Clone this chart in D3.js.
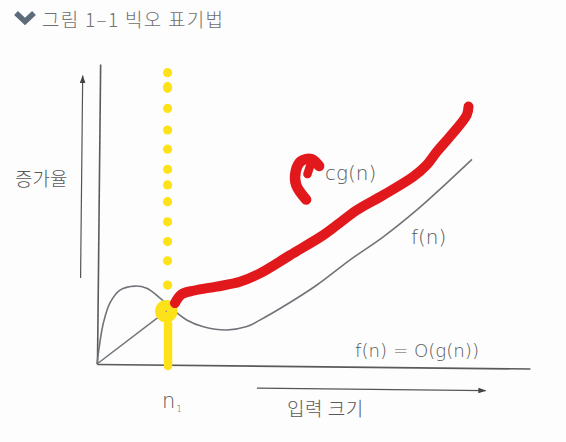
<!DOCTYPE html>
<html><head><meta charset="utf-8">
<script src="https://cdn.jsdelivr.net/npm/d3@7/dist/d3.min.js"></script>
<style>
html,body{margin:0;padding:0;background:#fff;}
svg{display:block;}
text{font-family:"Noto Sans CJK KR","Noto Sans",sans-serif;font-weight:300;}
text.lat{font-family:"DejaVu Sans","Noto Sans",sans-serif;font-weight:200;}
</style></head>
<body>
<script>
// ---- data (chart units: input size 0-100, growth 0-100) ----
const fnX = [0, 0.5, 1.36, 2.85, 5.13, 8.59, 11.3, 14.4, 17.5, 20.6, 24.5, 29.9, 34.5, 37.5, 42.9, 50.6, 58.2, 65.8, 73.5, 81.1, 86.1];
const fnY = [0, 6.0, 13.6, 20.4, 24.7, 26.1, 25.4, 22.2, 18.3, 15.0, 12.8, 11.8, 13.0, 15.2, 19.8, 27.1, 35.6, 43.4, 52.5, 62.6, 69.5];
const lineX = [0, 16.7];
const lineY = [0, 18.8];
const cgX = [18.0, 19.5, 22.5, 27.6, 33.0, 37.6, 44.6, 52.3, 55.4, 60.0, 66.1, 73.0, 76.1, 78.5, 81.5, 85.4, 85.8];
const cgY = [20.3, 23.2, 24.5, 25.8, 27.4, 30.2, 36.3, 43.0, 46.3, 51.3, 56.3, 62.4, 66.3, 70.8, 75.8, 83.0, 85.8];
const n1 = 16.3;
const dotY = [97.1, 92.2, 85.2, 78.0, 71.6, 64.9, 59.7, 54.1, 47.4, 40.8, 34.4, 26.3];
const loopX = [16.0], loopY = [17.6];
const stemY = [13.5, -0.7];
const curlX = [48.3, 46.0, 45.9, 47.1, 49.5, 51.3];
const curlY = [54.8, 59.7, 64.3, 67.6, 68.3, 66.0];
const curlSpurX = [49.6, 48.6];
const curlSpurY = [67.6, 63.3];
const title = "그림 1–1 빅오 표기법";
const yLabel = "증가율";
const xLabel = "입력 크기";
const cgLabel = "cg(n)";
const fLabel = "f(n)";
const eqLabel = "f(n) = O(g(n))";

const W = 566, H = 442;
const svg = d3.select("body").append("svg").attr("width", W).attr("height", H);
svg.append("rect").attr("width", W).attr("height", H).attr("fill", "#fdfdfd");

const x = d3.scaleLinear().domain([0, 100]).range([97, 530]);
const y = d3.scaleLinear().domain([0, 100]).range([364, 64]);

// title
svg.append("path").attr("d", "M16,13 L25,21.5 L34,13").attr("fill", "none")
  .attr("stroke", "#5e6b7a").attr("stroke-width", 5.5).attr("stroke-linejoin", "miter");
svg.append("text").attr("x", 42).attr("y", 27).attr("font-size", 19).attr("letter-spacing", 1.3)
  .attr("fill", "#707070").text(title);

// printed figure (slightly rotated as in the photo)
const g = svg.append("g").attr("transform", `rotate(0.6, ${x(0)}, ${y(0)})`);
const axColor = "#5a5a5a";
g.append("g").attr("transform", `translate(0,${y(0)})`)
  .call(d3.axisBottom(x).tickValues([]).tickSizeOuter(0))
  .call(s => s.select(".domain").attr("stroke", axColor).attr("stroke-width", 1.6));
g.append("g").attr("transform", `translate(${x(0)},0)`)
  .call(d3.axisLeft(y).tickValues([]).tickSizeOuter(0))
  .call(s => s.select(".domain").attr("stroke", axColor).attr("stroke-width", 1.6));

const defs = svg.append("defs");
defs.append("marker").attr("id", "ah").attr("viewBox", "0 0 10 10").attr("refX", 9).attr("refY", 5)
  .attr("markerWidth", 8).attr("markerHeight", 8).attr("markerUnits", "userSpaceOnUse").attr("orient", "auto")
  .append("path").attr("d", "M0,1.5 L10,5 L0,8.5 Z").attr("fill", "#444");

// direction arrows
g.append("line").attr("x1", x(-4.0)).attr("y1", y(28.6)).attr("x2", x(-4.0)).attr("y2", y(96))
  .attr("stroke", "#555").attr("stroke-width", 1.2).attr("marker-end", "url(#ah)");
g.append("line").attr("x1", x(37.0)).attr("y1", y(-7.5)).attr("x2", x(89.8)).attr("y2", y(-7.5))
  .attr("stroke", "#555").attr("stroke-width", 1.2).attr("marker-end", "url(#ah)");

const line = d3.line().x(d => x(d[0])).y(d => y(d[1]));
g.append("path").datum(d3.zip(lineX, lineY)).attr("d", line)
  .attr("fill", "none").attr("stroke", "#707478").attr("stroke-width", 1.5);
g.append("path").datum(d3.zip(fnX, fnY)).attr("d", line.curve(d3.curveCatmullRom.alpha(0.5)))
  .attr("fill", "none").attr("stroke", "#707478").attr("stroke-width", 1.6);

// labels
const tc = "#585858";
svg.append("text").attr("x", 15).attr("y", 186).attr("font-size", 19).attr("fill", tc).text(yLabel);
svg.append("text").attr("x", 287).attr("y", 416).attr("font-size", 19).attr("letter-spacing", 0.5).attr("fill", tc).text(xLabel);
svg.append("text").attr("class", "lat").attr("x", 325).attr("y", 180).attr("font-size", 20).attr("fill", tc).text(cgLabel);
svg.append("text").attr("class", "lat").attr("x", 411).attr("y", 244).attr("font-size", 20).attr("fill", tc).text(fLabel);
svg.append("text").attr("class", "lat").attr("x", 355).attr("y", 357).attr("font-size", 18.2).attr("fill", tc).text(eqLabel);
const nt = svg.append("text").attr("class", "lat").attr("x", 162).attr("y", 408).attr("font-size", 21).attr("fill", tc);
nt.append("tspan").text("n");
nt.append("tspan").attr("font-size", 9).attr("dy", 4).attr("dx", 1).text("1");

// hand-drawn annotations
const yellow = "#fde21a", red = "#e2191c";
svg.append("g").selectAll("ellipse").data(dotY).join("ellipse")
  .attr("cx", x(n1)).attr("cy", d => y(d))
  .attr("rx", 4.6).attr("ry", (d, i) => i === 1 ? 5.6 : 4.6).attr("fill", yellow);
svg.append("line").attr("x1", x(16.4)).attr("x2", x(16.4)).attr("y1", y(stemY[0])).attr("y2", y(stemY[1]))
  .attr("stroke", yellow).attr("stroke-width", 8.5).attr("stroke-linecap", "round");
svg.selectAll("circle.loop").data(d3.zip(loopX, loopY)).join("circle").attr("class", "loop")
  .attr("cx", d => x(d[0])).attr("cy", d => y(d[1])).attr("r", 6)
  .attr("fill", "none").attr("stroke", yellow).attr("stroke-width", 10.5);

const rline = d3.line().x(d => x(d[0])).y(d => y(d[1])).curve(d3.curveCatmullRom.alpha(0.5));
svg.append("path").datum(d3.zip(cgX, cgY)).attr("d", rline)
  .attr("fill", "none").attr("stroke", red).attr("stroke-width", 10)
  .attr("stroke-linecap", "round").attr("stroke-linejoin", "round");
svg.append("path").datum(d3.zip(curlX, curlY)).attr("d", rline)
  .attr("fill", "none").attr("stroke", red).attr("stroke-width", 10.5)
  .attr("stroke-linecap", "round").attr("stroke-linejoin", "round");
svg.append("path").datum(d3.zip(curlSpurX, curlSpurY)).attr("d", d3.line().x(d => x(d[0])).y(d => y(d[1])))
  .attr("fill", "none").attr("stroke", red).attr("stroke-width", 8.5)
  .attr("stroke-linecap", "round");
</script>
</body></html>
